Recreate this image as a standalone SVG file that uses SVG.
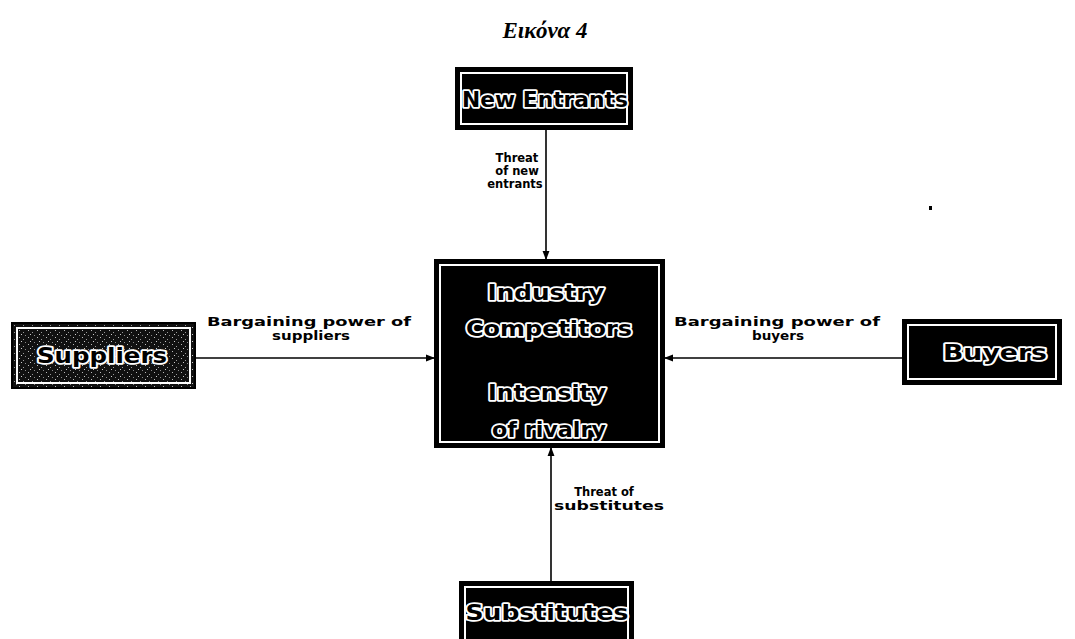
<svg xmlns="http://www.w3.org/2000/svg" width="1075" height="639" viewBox="0 0 1075 639">
  <style>
    .title { font-family: "Liberation Serif", "DejaVu Serif", serif; font-weight: bold; font-style: italic; font-size: 23px; fill: #000; }
    .box { fill: #000; stroke: #000; stroke-width: 2; }
    .inner { fill: none; stroke: #fff; stroke-width: 2; }
    .name { font-family: "DejaVu Sans", "Liberation Sans", sans-serif; font-weight: bold; font-size: 21px; fill: #000; stroke: #fff; stroke-width: 3.5; stroke-linejoin: round; paint-order: stroke fill; text-anchor: middle; }
    .lbl { font-family: "DejaVu Sans", "Liberation Sans", sans-serif; font-weight: bold; font-size: 11.5px; fill: #000; text-anchor: middle; }
    .edge { stroke: #000; stroke-width: 1.6; fill: none; }
  </style>
  <defs>
    <marker id="arrow" viewBox="0 0 8 8" refX="7" refY="4" markerWidth="6" markerHeight="6" orient="auto">
      <path d="M0,1 L8,4 L0,7 z" fill="#000"/>
    </marker>
    <!-- speckled dark fill for the Suppliers block -->
    <pattern id="speckle" width="9" height="7" patternUnits="userSpaceOnUse">
      <rect width="9" height="7" fill="#111"/>
      <rect x="1" y="1" width="1" height="1" fill="#bbb"/>
      <rect x="5" y="3" width="1" height="1" fill="#999"/>
      <rect x="3" y="5" width="1" height="1" fill="#ccc"/>
      <rect x="7" y="6" width="1" height="1" fill="#888"/>
    </pattern>
  </defs>

  <rect width="1075" height="639" fill="#fff"/>

  <text class="title" x="545" y="38" text-anchor="middle">Εικόνα 4</text>

  <!-- connectors -->
  <g id="connectors">
    <line class="edge" x1="546" y1="130" x2="546" y2="259" marker-end="url(#arrow)"/>
    <line class="edge" x1="196" y1="358" x2="434" y2="358" marker-end="url(#arrow)"/>
    <line class="edge" x1="903" y1="358" x2="665" y2="358" marker-end="url(#arrow)"/>
    <line class="edge" x1="551" y1="582" x2="551" y2="448" marker-end="url(#arrow)"/>

    <text class="lbl" x="517" y="162">Threat</text>
    <text class="lbl" x="517" y="175">of new</text>
    <text class="lbl" x="515" y="188">entrants</text>

    <text class="lbl" x="309" y="326" textLength="204" lengthAdjust="spacingAndGlyphs">Bargaining power of</text>
    <text class="lbl" x="311" y="340" textLength="78" lengthAdjust="spacingAndGlyphs">suppliers</text>

    <text class="lbl" x="777" y="326" textLength="206" lengthAdjust="spacingAndGlyphs">Bargaining power of</text>
    <text class="lbl" x="778" y="340" textLength="52" lengthAdjust="spacingAndGlyphs">buyers</text>

    <text class="lbl" x="604" y="496">Threat of</text>
    <text class="lbl" x="609" y="510" textLength="110" lengthAdjust="spacingAndGlyphs">substitutes</text>
  </g>

  <!-- nodes -->
  <g id="new-entrants">
    <rect class="box" x="456" y="68" width="176" height="61"/>
    <rect class="inner" x="461" y="73" width="166" height="51"/>
    <text class="name" x="545" y="107" textLength="166" lengthAdjust="spacingAndGlyphs" paint-order="stroke fill">New Entrants</text>
  </g>

  <g id="industry-competitors">
    <rect class="box" x="435" y="260" width="229" height="187"/>
    <rect class="inner" x="440" y="265" width="219" height="177"/>
    <text class="name" x="546" y="300" textLength="117" lengthAdjust="spacingAndGlyphs" paint-order="stroke fill">Industry</text>
    <text class="name" x="549" y="336" textLength="166" lengthAdjust="spacingAndGlyphs" paint-order="stroke fill">Competitors</text>
    <text class="name" x="547" y="400" textLength="118" lengthAdjust="spacingAndGlyphs" paint-order="stroke fill">Intensity</text>
    <text class="name" x="549" y="437" textLength="114" lengthAdjust="spacingAndGlyphs" paint-order="stroke fill">of rivalry</text>
  </g>

  <g id="suppliers">
    <rect x="12" y="323" width="183" height="65" fill="url(#speckle)" stroke="#000" stroke-width="2"/>
    <rect class="inner" x="17" y="328" width="173" height="55"/>
    <text class="name" x="102" y="363" textLength="130" lengthAdjust="spacingAndGlyphs" paint-order="stroke fill">Suppliers</text>
  </g>

  <g id="buyers">
    <rect class="box" x="903" y="320" width="158" height="64"/>
    <rect class="inner" x="908" y="325" width="148" height="54"/>
    <text class="name" x="995" y="360" textLength="104" lengthAdjust="spacingAndGlyphs" paint-order="stroke fill">Buyers</text>
  </g>

  <g id="substitutes">
    <rect class="box" x="460" y="582" width="173" height="62"/>
    <rect class="inner" x="465" y="587" width="163" height="60"/>
    <text class="name" x="547" y="620" textLength="163" lengthAdjust="spacingAndGlyphs" paint-order="stroke fill">Substitutes</text>
  </g>

  <rect x="929" y="206" width="3" height="4" fill="#000"/>
</svg>
